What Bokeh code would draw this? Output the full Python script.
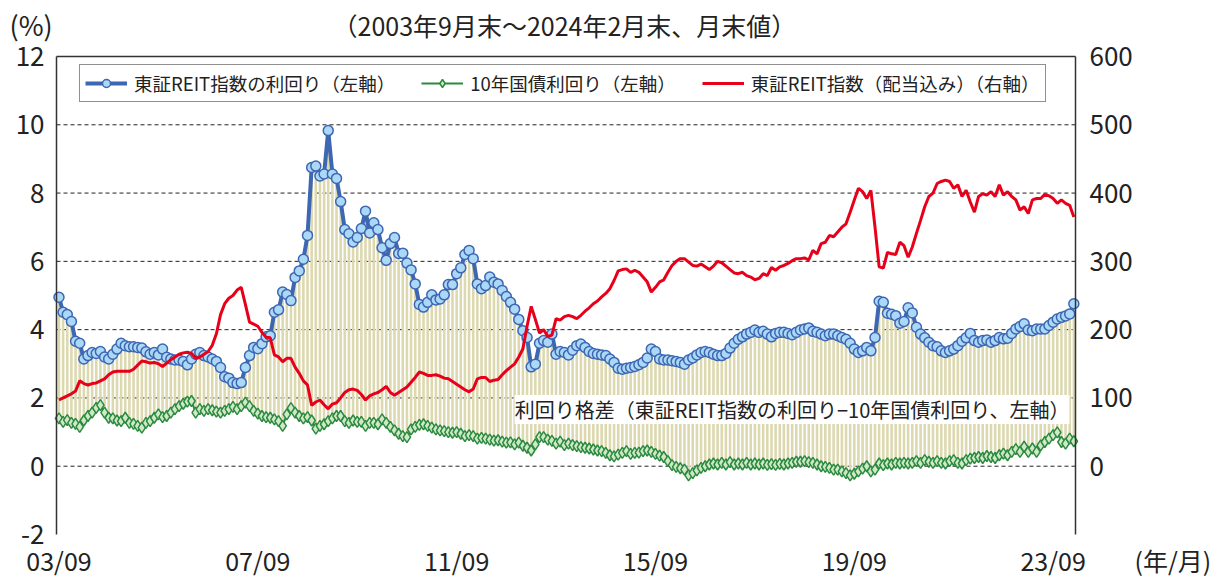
from bokeh.plotting import figure
from bokeh.models import Range1d, LinearAxis, FixedTicker, Legend, LegendItem, Label
from bokeh.embed import file_html
from bokeh.resources import INLINE

# ---- data (monthly, 2003/09 .. 2024/02) ----
reit_yield = [
    4.95, 4.51, 4.44, 4.24, 3.66, 3.60, 3.14, 3.24, 3.33, 3.30, 3.36, 3.20,
    3.14, 3.28, 3.43, 3.60, 3.53, 3.50, 3.50, 3.48, 3.46, 3.35, 3.28, 3.33,
    3.26, 3.43, 3.19, 3.14, 3.11, 3.11, 3.07, 2.97, 3.14, 3.28, 3.33, 3.24,
    3.20, 3.14, 3.07, 2.89, 2.62, 2.58, 2.45, 2.42, 2.45, 2.89, 3.24, 3.48,
    3.44, 3.59, 3.79, 3.82, 4.51, 4.58, 5.10, 5.03, 4.85, 5.53, 5.72, 6.06,
    6.76, 8.75, 8.79, 8.50, 8.56, 9.83, 8.56, 8.43, 7.75, 6.93, 6.81, 6.57,
    6.70, 6.96, 7.47, 6.83, 7.13, 6.93, 6.40, 6.03, 6.52, 6.70, 6.23, 6.24,
    5.95, 5.75, 5.34, 4.74, 4.66, 4.80, 5.02, 4.87, 4.90, 5.02, 5.32, 5.32,
    5.64, 5.81, 6.20, 6.32, 6.08, 5.34, 5.20, 5.29, 5.54, 5.39, 5.34, 5.15,
    4.97, 4.80, 4.60, 4.30, 3.97, 3.77, 2.91, 2.99, 3.60, 3.68, 3.63, 3.87,
    3.28, 3.36, 3.33, 3.26, 3.40, 3.53, 3.58, 3.48, 3.36, 3.30, 3.28, 3.26,
    3.24, 3.14, 3.04, 2.87, 2.84, 2.87, 2.89, 2.92, 2.97, 3.04, 3.17, 3.43,
    3.36, 3.14, 3.11, 3.11, 3.09, 3.07, 3.04, 2.99, 3.11, 3.17, 3.26, 3.33,
    3.36, 3.33, 3.28, 3.24, 3.24, 3.30, 3.46, 3.60, 3.72, 3.79, 3.87, 3.92,
    3.99, 3.92, 3.95, 3.87, 3.79, 3.89, 3.92, 3.92, 3.89, 3.85, 3.92, 3.99,
    4.02, 4.05, 3.95, 3.92, 3.87, 3.82, 3.87, 3.87, 3.82, 3.77, 3.72, 3.60,
    3.43, 3.33, 3.38, 3.48, 3.38, 3.77, 4.83, 4.80, 4.48, 4.45, 4.41, 4.19,
    4.24, 4.64, 4.49, 4.07, 3.87, 3.76, 3.63, 3.53, 3.50, 3.38, 3.33, 3.38,
    3.43, 3.53, 3.66, 3.76, 3.89, 3.68, 3.63, 3.68, 3.70, 3.63, 3.68, 3.77,
    3.73, 3.75, 3.89, 4.02, 4.09, 4.17, 3.99, 3.97, 4.02, 4.02, 4.02, 4.12,
    4.22, 4.31, 4.36, 4.40, 4.46, 4.76,
]

jgb_yield = [
    1.40, 1.30, 1.35, 1.27, 1.24, 1.15, 1.34, 1.47, 1.57, 1.71, 1.79, 1.57,
    1.42, 1.40, 1.34, 1.32, 1.42, 1.27, 1.24, 1.18, 1.13, 1.27, 1.32, 1.42,
    1.52, 1.44, 1.47, 1.57, 1.67, 1.76, 1.83, 1.89, 1.91, 1.57, 1.67, 1.62,
    1.67, 1.64, 1.60, 1.57, 1.62, 1.67, 1.74, 1.67, 1.76, 1.86, 1.76, 1.62,
    1.54, 1.47, 1.44, 1.42, 1.37, 1.32, 1.18, 1.52, 1.70, 1.57, 1.47, 1.40,
    1.44, 1.34, 1.10, 1.18, 1.23, 1.32, 1.40, 1.47, 1.47, 1.32, 1.27, 1.34,
    1.30, 1.30, 1.18, 1.27, 1.27, 1.23, 1.37, 1.27, 1.15, 1.05, 0.95, 0.88,
    0.85, 1.08, 1.15, 1.21, 1.23, 1.18, 1.13, 1.08, 1.05, 1.03, 1.00, 0.98,
    1.00, 0.95, 0.88, 0.91, 0.88, 0.81, 0.83, 0.81, 0.78, 0.75, 0.76, 0.72,
    0.69, 0.70, 0.64, 0.69, 0.60, 0.54, 0.46, 0.64, 0.85, 0.85, 0.78, 0.74,
    0.66, 0.72, 0.62, 0.66, 0.62, 0.59, 0.56, 0.54, 0.52, 0.49, 0.46, 0.44,
    0.39, 0.32, 0.29, 0.34, 0.39, 0.44, 0.36, 0.39, 0.40, 0.44, 0.46, 0.42,
    0.36, 0.31, 0.27, 0.15, 0.03, -0.02, -0.06, -0.10, -0.27, -0.20, -0.12, -0.05,
    0.00, 0.05, 0.08, 0.05, 0.10, 0.05, 0.12, 0.05, 0.08, 0.05, 0.10, 0.05,
    0.08, 0.05, 0.08, 0.04, 0.06, 0.04, 0.07, 0.05, 0.08, 0.10, 0.13, 0.13,
    0.15, 0.12, 0.10, 0.05, 0.00, -0.02, -0.05, -0.10, -0.10, -0.15, -0.20, -0.27,
    -0.22, -0.15, -0.07, 0.00, -0.15, -0.10, 0.08, 0.03, 0.08, 0.05, 0.10, 0.08,
    0.10, 0.08, 0.10, 0.15, 0.10, 0.18, 0.13, 0.10, 0.15, 0.10, 0.08, 0.15,
    0.18, 0.10, 0.08, 0.18, 0.22, 0.24, 0.27, 0.24, 0.30, 0.27, 0.24, 0.32,
    0.37, 0.32, 0.42, 0.50, 0.42, 0.57, 0.42, 0.52, 0.42, 0.61, 0.71, 0.81,
    0.91, 0.99, 0.71, 0.66, 0.81, 0.73,
]

reit_index = [
    97, 100, 103, 106, 110, 125, 121, 119, 121, 122, 125, 128,
    134, 138, 139, 139, 139, 139, 142, 148, 154, 153, 151, 152,
    150, 146, 151, 156, 160, 164, 166, 167, 165, 158, 160, 164,
    168, 177, 194, 222, 238, 246, 250, 258, 262, 237, 211, 208,
    205, 196, 189, 188, 163, 160, 153, 158, 158, 145, 136, 125,
    119, 89, 94, 97, 90, 84, 91, 93, 100, 108, 112, 113,
    111, 105, 97, 103, 106, 108, 112, 117, 108, 104, 108, 112,
    116, 123, 130, 138, 136, 133, 133, 134, 132, 129, 128, 124,
    120, 116, 112, 109, 113, 128, 130, 130, 124, 126, 127, 134,
    140, 145, 150, 160, 172, 205, 234, 215, 195, 200, 190, 192,
    216, 214, 219, 221, 219, 216, 221, 227, 232, 238, 242, 248,
    253, 260, 272, 286, 288, 289, 284, 287, 284, 277, 270, 255,
    262, 270, 273, 284, 294, 300, 304, 304, 299, 294, 293, 296,
    292, 288, 293, 300, 298, 293, 288, 283, 282, 284, 279, 277,
    273, 275, 282, 279, 291, 287, 292, 294, 297, 301, 304, 304,
    305, 302, 316, 311, 326, 328, 338, 336, 343, 350, 355, 372,
    390, 407, 402, 392, 404, 350, 292, 290, 313, 311, 310, 328,
    323, 306, 321, 341, 360, 380, 395, 400, 414, 417, 419, 417,
    407, 412, 395, 404, 387, 372, 395, 399, 397, 402, 395, 412,
    397, 402, 395, 390, 375, 380, 370, 390, 392, 392, 398, 396,
    392, 385, 390, 385, 382, 365,
]

months = list(range(len(reit_yield)))
x_tick_pos = [0, 48, 96, 144, 192, 240]
x_tick_labels = ["03/09", "07/09", "11/09", "15/09", "19/09", "23/09"]
left_ticks = [-2, 0, 2, 4, 6, 8, 10, 12]
grid_ticks = [0, 2, 4, 6, 8, 10]
right_ticks = [0, 100, 200, 300, 400, 500, 600]

JP = "Noto Sans CJK JP"
TXT = "#222222"

# ---- layout: chart area inside a full-figure frame ----
W, H = 1212, 577
AREA_L, AREA_R, AREA_T, AREA_B = 56, 1075, 56, 534      # pixels in the figure
X0, X1 = -0.6, 245.4                                  # months shown in the chart area
Y0, Y1 = -2.0, 12.0                                   # left axis
R0, R1 = -100.0, 600.0                                # right axis
XLAB_Y = 559                                          # centre of bottom labels (px from top)

kx = (AREA_R - AREA_L) / (X1 - X0)
ky = (AREA_B - AREA_T) / (Y1 - Y0)
kr = (AREA_B - AREA_T) / (R1 - R0)
x_range = Range1d(X0 - AREA_L / kx, X1 + (W - AREA_R) / kx)
y_range = Range1d(Y0 - (H - AREA_B) / ky, Y1 + AREA_T / ky)
r_range = Range1d(R0 - (H - AREA_B) / kr, R1 + AREA_T / kr)

p = figure(width=W, height=H, output_backend="svg", toolbar_location=None,
           x_range=x_range, y_range=y_range, x_axis_type=None, y_axis_type=None,
           min_border=0)
p.extra_y_ranges = {"right": r_range}
p.outline_line_color = None
p.background_fill_color = "white"
p.grid.visible = False

# left axis
ly = LinearAxis(fixed_location=X0, bounds=(Y0, Y1), ticker=FixedTicker(ticks=left_ticks))
ly.major_label_overrides = {-2: "-2"}
ly.major_tick_line_color = None
ly.major_tick_out = 0
ly.major_tick_in = 0
ly.minor_tick_line_color = None
ly.major_label_text_font = JP
ly.major_label_text_font_size = "26px"
ly.major_label_text_color = TXT
ly.axis_line_color = "#333333"
ly.axis_line_width = 1.5
ly.major_label_standoff = 12
p.add_layout(ly, "left")

# right axis
ry = LinearAxis(y_range_name="right", fixed_location=X1, bounds=(R0, R1),
                ticker=FixedTicker(ticks=right_ticks))
ry.major_tick_line_color = None
ry.major_tick_out = 0
ry.major_tick_in = 0
ry.minor_tick_line_color = None
ry.major_label_text_font = JP
ry.major_label_text_font_size = "26px"
ry.major_label_text_color = TXT
ry.axis_line_color = "#333333"
ry.axis_line_width = 1.5
ry.major_label_standoff = 14
p.add_layout(ry, "right")

# grid lines and top border of the chart area
p.segment(x0=[X0] * len(grid_ticks), x1=[X1] * len(grid_ticks), y0=grid_ticks, y1=grid_ticks,
          line_color="#222222", line_dash="4 3", line_width=1)
p.segment(x0=[X0], x1=[X1], y0=[Y1], y1=[Y1], line_color="#333333", line_width=1.5)

# x tick labels
for xp, xl in zip(x_tick_pos, x_tick_labels):
    p.add_layout(Label(x=xp, y=H - XLAB_Y, x_units="data", y_units="screen", text=xl,
                       text_font=JP, text_font_size="25px", text_color=TXT,
                       text_align="center", text_baseline="middle"))

# spread bars
p.vbar(x=months, width=0.62, bottom=jgb_yield, top=reit_yield,
       fill_color="#dcd8b0", line_color=None)

# JGB
gl = p.line(months, jgb_yield, color="#2b8a3e", line_width=2)
gs = p.scatter(months, jgb_yield, marker="diamond", size=11,
               fill_color="#cfe9c8", line_color="#2b8a3e", line_width=1.5)
# REIT yield
bl = p.line(months, reit_yield, color="#3d66b3", line_width=4)
bs = p.scatter(months, reit_yield, marker="circle", size=10,
               fill_color="#aad8f6", line_color="#3d66b3", line_width=1.5)
# REIT index (right)
rl = p.line(months, reit_index, color="#e8001a", line_width=3, y_range_name="right")

legend = Legend(items=[
    LegendItem(label="東証REIT指数の利回り（左軸）", renderers=[bl, bs]),
    LegendItem(label="10年国債利回り（左軸）", renderers=[gl, gs]),
    LegendItem(label="東証REIT指数（配当込み）（右軸）", renderers=[rl]),
], orientation="horizontal", location=(79, H - 102))
legend.border_line_color = "#222222"
legend.border_line_width = 1.5
legend.background_fill_alpha = 1
legend.label_text_font = JP
legend.label_text_font_size = "18.5px"
legend.label_text_color = TXT
legend.glyph_width = 42
legend.glyph_height = 20
legend.label_height = 20
legend.spacing = 26
legend.padding = 5
legend.label_standoff = 7
legend.margin = 0
p.add_layout(legend)

# spread annotation
p.add_layout(Label(x=110, y=1.66, text="利回り格差（東証REIT指数の利回り−10年国債利回り、左軸）",
                   text_font=JP, text_font_size="20px", text_color=TXT,
                   text_baseline="middle", text_align="left",
                   background_fill_color="white", background_fill_alpha=1))

# title, units
p.add_layout(Label(x=332, y=H - 24, x_units="screen", y_units="screen",
                   text="（2003年9月末～2024年2月末、月末値）",
                   text_font=JP, text_font_size="25px", text_color=TXT,
                   text_baseline="middle", text_align="left"))
p.add_layout(Label(x=9, y=H - 24, x_units="screen", y_units="screen", text="(%)",
                   text_font=JP, text_font_size="27px", text_color=TXT,
                   text_baseline="middle", text_align="left"))
p.add_layout(Label(x=1134, y=H - XLAB_Y, x_units="screen", y_units="screen", text="(年/月)",
                   text_font=JP, text_font_size="25px", text_color=TXT,
                   text_baseline="middle", text_align="left"))

open("out.html", "w").write(file_html(p, INLINE))
